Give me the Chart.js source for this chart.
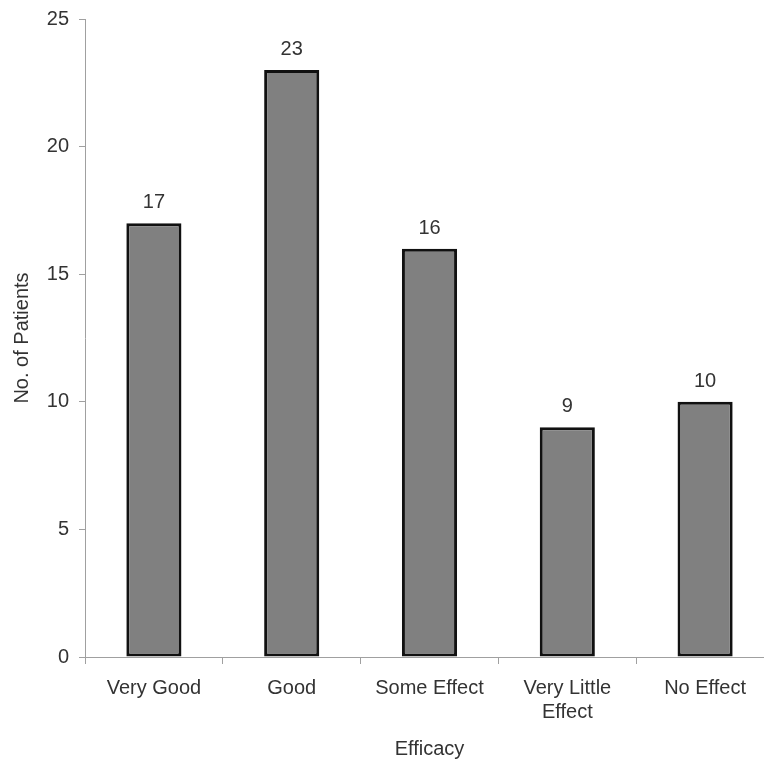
<!DOCTYPE html>
<html lang="en">
<head>
    <meta charset="utf-8" />
    <title>Efficacy - No. of Patients</title>
    <script src="https://cdn.jsdelivr.net/npm/chart.js@4.4.1/dist/chart.umd.min.js"></script>
    <style>
        html, body { margin: 0; padding: 0; background: #fff; overflow: hidden; }
        #wrap { position: relative; width: 776px; height: 764px; }
    </style>
</head>
<body>
    <div id="wrap"><canvas id="myChart"></canvas></div>

    <script>
        //Chart data.
        var categories = ['Very Good', 'Good', 'Some Effect', ['Very Little', 'Effect'], 'No Effect'];
        var patients = [17, 23, 16, 9, 10];
        var yTicks = [0, 5, 10, 15, 20, 25];

        var textColor = '#333333';
        var axisColor = '#a0a0a0';
        var fontFamily = '"Liberation Sans", Arial, sans-serif';

        //Draws the value above each bar.
        var valueLabels = {
            id: 'valueLabels',
            afterDatasetsDraw: function (chart) {
                var ctx = chart.ctx;
                var meta = chart.getDatasetMeta(0);
                ctx.save();
                ctx.font = '20px ' + fontFamily;
                ctx.fillStyle = textColor;
                ctx.textAlign = 'center';
                ctx.textBaseline = 'alphabetic';
                meta.data.forEach(function (bar, i) {
                    ctx.fillText(String(patients[i]), bar.x, bar.y - 15);
                });
                ctx.restore();
            }
        };

        var chart = new Chart(document.getElementById('myChart'), {
            type: 'bar',
            data: {
                labels: categories,
                datasets: [{
                    data: patients,
                    backgroundColor: '#808080',
                    borderColor: '#111111',
                    borderWidth: 3,
                    borderSkipped: false,
                    barPercentage: 0.4,
                    categoryPercentage: 1.0
                }]
            },
            options: {
                responsive: true,
                maintainAspectRatio: false,
                animation: false,
                devicePixelRatio: 1,
                layout: { padding: { top: 18, right: 2, bottom: 0, left: 0 } },
                plugins: {
                    legend: { display: false },
                    tooltip: { enabled: false }
                },
                scales: {
                    x: {
                        offset: true,
                        grid: { drawOnChartArea: false, drawTicks: true, tickLength: 7, color: axisColor, offset: true },
                        border: { color: axisColor, width: 1 },
                        ticks: {
                            color: textColor,
                            padding: 12,
                            maxRotation: 0,
                            autoSkip: false,
                            font: { family: fontFamily, size: 20, lineHeight: 1.2 }
                        },
                        title: {
                            display: true,
                            text: 'Efficacy',
                            color: textColor,
                            padding: { top: 0, bottom: 3 },
                            font: { family: fontFamily, size: 20, lineHeight: 1.2 }
                        },
                        afterFit: function (scale) { scale.height = 107; }
                    },
                    y: {
                        min: 0,
                        max: 25,
                        afterBuildTicks: function (scale) {
                            scale.ticks = yTicks.map(function (v) { return { value: v }; });
                        },
                        grid: { drawOnChartArea: false, drawTicks: true, tickLength: 6, color: axisColor },
                        border: { color: axisColor, width: 1 },
                        ticks: {
                            color: textColor,
                            padding: 10,
                            font: { family: fontFamily, size: 20, lineHeight: 0.9 }
                        },
                        title: {
                            display: true,
                            text: 'No. of Patients',
                            color: textColor,
                            padding: { top: 10, bottom: 0 },
                            font: { family: fontFamily, size: 20, lineHeight: 1.2 }
                        },
                        afterFit: function (scale) { scale.width = 85; }
                    }
                }
            },
            plugins: [valueLabels]
        });
    </script>
</body>
</html>
